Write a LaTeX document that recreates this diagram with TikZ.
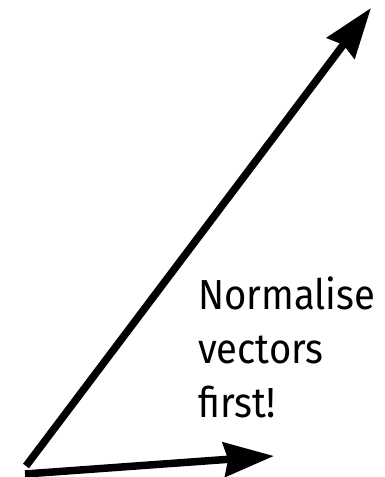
\documentclass[tikz,border=0pt]{standalone}
\usepackage{fontspec}
\newfontfamily\lblfont[FakeStretch=0.91]{Fira Sans}
\usetikzlibrary{arrows.meta}
\begin{document}
\begin{tikzpicture}[x=1pt,y=1pt,
  vec/.style={line width=7.5pt,-{Stealth[length=50pt,width=34pt,inset=4pt]}},
  lbl/.style={anchor=base west,align=left,inner sep=0pt,font=\lblfont\fontsize{42}{54.5}\selectfont}]
\useasboundingbox (0,0) rectangle (385,477);
\coordinate (o1) at (26,11);
\coordinate (l) at (371,469);
\coordinate (o2) at (25,3);
\coordinate (s) at (274,21);
\draw[vec] (o1) -- (l);
\draw[vec] (o2) -- (s);
\node[lbl] (t) at (198,59) {Normalise\\vectors\\first!};
\end{tikzpicture}
\end{document}
